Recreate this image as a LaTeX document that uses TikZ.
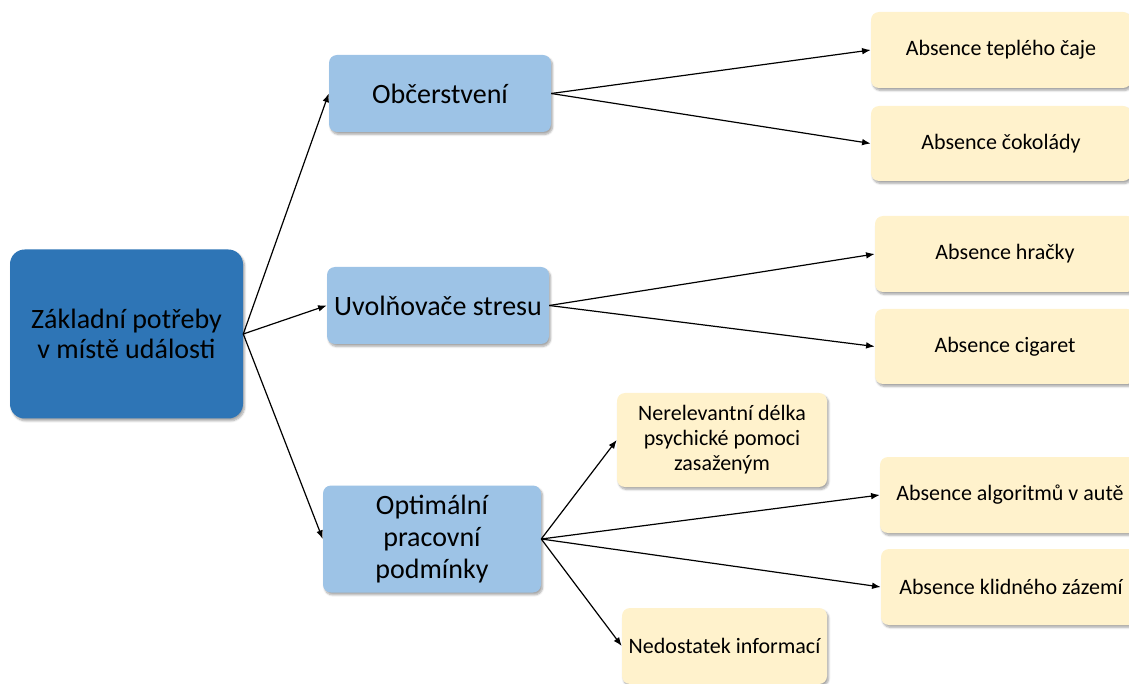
\documentclass[tikz,border=0pt]{standalone}
\usepackage{fontspec}
\setmainfont{Carlito}
\usetikzlibrary{arrows.meta,shadows.blur}
\definecolor{rootblue}{HTML}{2E75B6}
\definecolor{lightblue}{HTML}{9DC3E6}
\definecolor{paleyellow}{HTML}{FFF2CC}
\tikzset{
  sz/.style 2 args={minimum width=#1*0.75pt, minimum height=#2*0.75pt},
  basebox/.style={rectangle, rounded corners=6pt, draw=none, align=center, inner sep=2pt,
    blur shadow={shadow xshift=1.2pt, shadow yshift=-1.8pt, shadow blur steps=6, shadow opacity=35, shadow blur radius=1.5pt}},
  rootbox/.style={basebox, fill=rootblue, rounded corners=11pt, font=\fontsize{21}{22}\selectfont},
  catbox/.style={basebox, fill=lightblue, font=\fontsize{21}{23}\selectfont},
  leafbox/.style={basebox, fill=paleyellow, font=\fontsize{16.5}{18.8}\selectfont},
  link/.style={draw=black, line width=0.9pt, -{Latex[length=6.5pt,width=5pt]}}
}
\begin{document}
\begin{tikzpicture}[x=0.75pt, y=-0.75pt]
  \useasboundingbox (0,0) rectangle (1129,684);
  \clip (0,0) rectangle (1129,684);

  % root
  \node[rootbox, sz={233}{169}] (root) at (126.5,334) {Základní potřeby\\v místě události};

  % categories
  \node[catbox, sz={222}{77}] (obc) at (440,93.5) {Občerstvení};
  \node[catbox, sz={222}{77}] (uvo) at (438,305.5) {Uvolňovače stresu};
  \node[catbox, sz={218}{107}, font=\fontsize{21}{23.8}\selectfont] (opt) at (432,539) {Optimální\\pracovní\\podmínky};

  % leaves
  \node[leafbox, sz={260}{76}] (caj) at (1001,50) {Absence teplého čaje};
  \node[leafbox, sz={260}{75}] (cok) at (1001,143.5) {Absence čokolády};
  \node[leafbox, sz={260}{76}] (hra) at (1005,254) {Absence hračky};
  \node[leafbox, sz={260}{75}] (cig) at (1005,346.5) {Absence cigaret};
  \node[leafbox, sz={210}{94}] (ner) at (722,440) {Nerelevantní délka\\psychické pomoci\\zasaženým};
  \node[leafbox, sz={260}{76}] (alg) at (1010,495) {Absence algoritmů v autě};
  \node[leafbox, sz={260}{76}] (kli) at (1011,587) {Absence klidného zázemí};
  \node[leafbox, sz={205}{76}] (ned) at (724.5,646) {Nedostatek informací};

  % connectors
  \draw[link] (root.east) -- (obc.west);
  \draw[link] (root.east) -- (uvo.west);
  \draw[link] (root.east) -- (opt.west);
  \draw[link] (obc.east) -- (caj.west);
  \draw[link] (obc.east) -- (cok.west);
  \draw[link] (uvo.east) -- (hra.west);
  \draw[link] (uvo.east) -- (cig.west);
  \draw[link] (opt.east) -- (ner.west);
  \draw[link] (opt.east) -- (alg.west);
  \draw[link] (opt.east) -- (kli.west);
  \draw[link] (opt.east) -- (ned.west);
\end{tikzpicture}
\end{document}
